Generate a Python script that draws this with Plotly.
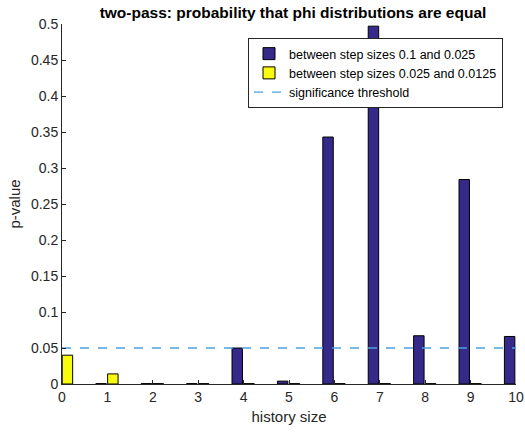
import plotly.graph_objects as go

history_size = [0, 1, 2, 3, 4, 5, 6, 7, 8, 9, 10]
p_coarse = [0.0, 0.0005, 0.0005, 0.0005, 0.05, 0.004, 0.343, 0.497, 0.067, 0.284, 0.066]
p_fine = [0.040, 0.014, 0.0005, 0.0005, 0.0005, 0.0005, 0.0005, 0.0005, 0.0005, 0.0005, 0.0005]
threshold = 0.05
threshold_x = [0, 10]
y_ticks = [0, 0.05, 0.1, 0.15, 0.2, 0.25, 0.3, 0.35, 0.4, 0.45, 0.5]
y_tick_labels = ["0", "0.05", "0.1", "0.15", "0.2", "0.25", "0.3", "0.35", "0.4", "0.45", "0.5"]

ink = "#262626"
font = "Liberation Sans, Arial, sans-serif"

fig = go.Figure()
fig.add_trace(go.Bar(
    x=history_size, y=p_coarse, name="between step sizes 0.1 and 0.025",
    width=0.23, offset=-0.255,
    marker=dict(color="#35298a", line=dict(color="black", width=1)),
))
fig.add_trace(go.Bar(
    x=history_size, y=p_fine, name="between step sizes 0.025 and 0.0125",
    width=0.23, offset=0.005,
    marker=dict(color="#f9fb0e", line=dict(color="black", width=1)),
))
fig.add_trace(go.Scatter(
    x=threshold_x, y=[threshold, threshold], mode="lines",
    name="significance threshold",
    line=dict(color="#4aa3e0", width=1.4, dash="dash"),
))

fig.update_layout(
    width=525, height=432,
    margin=dict(l=62, r=9, t=24, b=48),
    paper_bgcolor="white", plot_bgcolor="white",
    barmode="overlay",
    font=dict(family=font, size=14, color=ink),
    title=dict(
        text="<b>two-pass: probability that phi distributions are equal</b>",
        xref="container", x=293 / 525, xanchor="center",
        yref="container", y=1 - 12.5 / 432, yanchor="middle",
        font=dict(size=15.5, color="black"),
    ),
    showlegend=True,
    legend=dict(
        x=(503 - 62) / 454, xanchor="right", y=(384 - 38) / 360, yanchor="top",
        bgcolor="white", bordercolor=ink, borderwidth=1,
        font=dict(size=12.5, color="black"),
        tracegroupgap=0, itemwidth=30,
    ),
)
fig.update_xaxes(
    range=[0, 10], tickmode="array", tickvals=history_size,
    ticks="inside", ticklen=4, tickcolor=ink, automargin=False,
    showline=True, linecolor=ink, linewidth=1, showgrid=False, zeroline=False,
    title=dict(text="history size", standoff=7, font=dict(size=15)),
)
fig.update_yaxes(
    range=[0, 0.5], tickmode="array", tickvals=y_ticks, ticktext=y_tick_labels,
    ticks="inside", ticklen=4, tickcolor=ink, automargin=False,
    showline=True, linecolor=ink, linewidth=1, showgrid=False, zeroline=False,
    title=dict(text="p-value", standoff=6, font=dict(size=15)),
)

fig.write_html(
    "out.html",
    config={"displayModeBar": False},
    post_script="document.body.style.margin='0';document.body.style.overflow='hidden';",
)
